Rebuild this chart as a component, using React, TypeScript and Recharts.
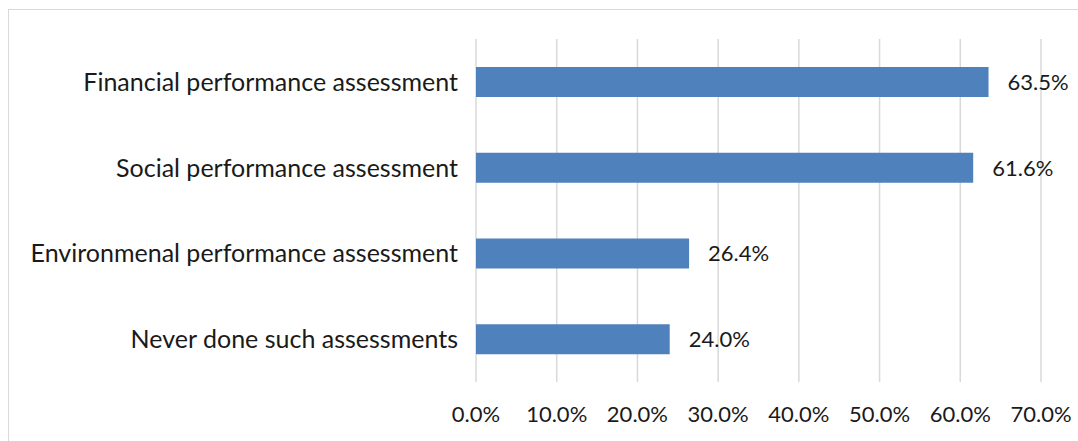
import React from 'react';
import { BarChart, Bar, XAxis, YAxis, CartesianGrid, LabelList } from 'recharts';

// Share of respondents per assessment type (%)
const categories = [
  'Financial performance assessment',
  'Social performance assessment',
  'Environmenal performance assessment',
  'Never done such assessments',
];
const shares = [63.5, 61.6, 26.4, 24.0];
const xTicks = [0, 10, 20, 30, 40, 50, 60, 70];

const data = categories.map((name, i) => ({ name, value: shares[i] }));

const FONT = 'Lato, "Open Sans", sans-serif';
const TEXT = '#1a1a1a';

export default function App() {
  return (
    <div
      style={{
        position: 'absolute',
        left: 8,
        top: 9,
        width: 1070,
        height: 432,
        borderTop: '1px solid #d9d9d9',
        borderLeft: '1px solid #d9d9d9',
        background: '#fff',
        fontFamily: FONT,
      }}
    >
      <BarChart
        width={1069}
        height={431}
        data={data}
        layout="vertical"
        margin={{ top: 29, right: 37, left: 0, bottom: 29 }}
        barCategoryGap={0}
      >
        <CartesianGrid horizontal={false} stroke="#d9d9d9" strokeWidth={1.5} />
        <XAxis
          type="number"
          domain={[0, 70]}
          ticks={xTicks}
          interval={0}
          axisLine={false}
          tickLine={false}
          tickSize={6}
          tickMargin={18}
          height={30}
          tickFormatter={(v) => `${v.toFixed(1)}%`}
          tick={{ fill: TEXT, fontSize: 22, fontFamily: FONT }}
        />
        <YAxis
          type="category"
          dataKey="name"
          width={467}
          axisLine={false}
          tickLine={false}
          tickSize={6}
          tickMargin={12}
          tick={{ fill: TEXT, fontSize: 25, fontFamily: FONT }}
        />
        <Bar dataKey="value" fill="#4f81bd" barSize={30} isAnimationActive={false}>
          <LabelList
            dataKey="value"
            position="right"
            offset={19}
            formatter={(v: number) => `${v.toFixed(1)}%`}
            style={{ fill: TEXT, fontSize: 22, fontFamily: FONT }}
          />
        </Bar>
      </BarChart>
    </div>
  );
}
